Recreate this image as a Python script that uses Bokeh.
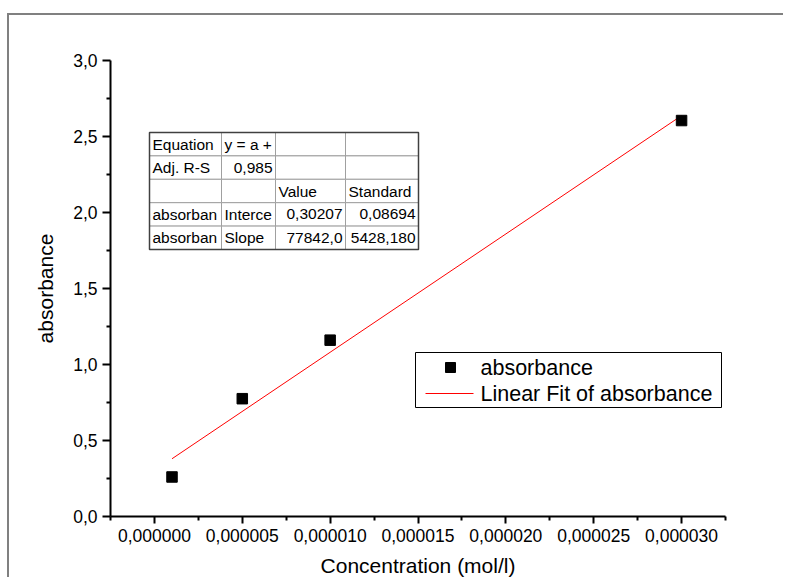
from bokeh.plotting import figure
from bokeh.models import Range1d, FixedTicker, CustomJSTickFormatter, InlineStyleSheet
from bokeh.core.properties import value
from bokeh.embed import file_html
from bokeh.resources import INLINE

# ---- data ----
concentration = [1e-6, 5e-6, 10e-6, 30e-6]
absorbance = [0.26, 0.775, 1.16, 2.605]
fit_intercept = 0.30207
fit_slope = 77842.0

x_major = [0.0, 5e-6, 10e-6, 15e-6, 20e-6, 25e-6, 30e-6]
x_minor = [-2.5e-6, 2.5e-6, 7.5e-6, 12.5e-6, 17.5e-6, 22.5e-6, 27.5e-6, 32.5e-6]
y_major = [0.0, 0.5, 1.0, 1.5, 2.0, 2.5, 3.0]
y_minor = [0.25, 0.75, 1.25, 1.75, 2.25, 2.75]

table_rows = [
    ["Equation", "y = a +", "", ""],
    ["Adj. R-S", "0,985", "", ""],
    ["", "", "Value", "Standard"],
    ["absorban", "Interce", "0,30207", "0,08694"],
    ["absorban", "Slope", "77842,0", "5428,180"],
]
table_align = [
    ["left", "left", "left", "left"],
    ["left", "right", "left", "left"],
    ["left", "left", "left", "left"],
    ["left", "left", "right", "right"],
    ["left", "left", "right", "right"],
]
legend_labels = ["absorbance", "Linear Fit of absorbance"]

FONT = "Liberation Sans"

p = figure(width=787, height=581, output_backend="svg", toolbar_location=None,
           x_range=Range1d(-2.5e-6, 32.5e-6), y_range=Range1d(0, 3.0),
           min_border_left=110, min_border_right=62, min_border_top=60, min_border_bottom=65,
           x_axis_label="Concentration (mol/l)", y_axis_label="absorbance")
p.outline_line_color = None
p.grid.visible = False
p.background_fill_color = "white"
p.border_fill_color = "white"

for ax in (p.xaxis[0], p.yaxis[0]):
    ax.axis_line_width = 2
    ax.axis_line_color = "black"
    ax.major_tick_line_width = 2
    ax.minor_tick_line_width = 2
    ax.major_tick_in = 0
    ax.minor_tick_in = 0
    ax.minor_tick_out = 4
    ax.major_label_standoff = 5
    ax.major_label_text_font = FONT
    ax.major_label_text_font_size = "17.5px"
    ax.major_label_text_color = "black"
    ax.axis_label_text_font = FONT
    ax.axis_label_text_font_size = "21px"
    ax.axis_label_text_font_style = "normal"
    ax.axis_label_text_color = "black"

p.xaxis.major_tick_out = 7
p.yaxis.major_tick_out = 8
p.xaxis.axis_label_standoff = 9
p.yaxis.axis_label_standoff = 13
p.xaxis.ticker = FixedTicker(ticks=x_major, minor_ticks=x_minor)
p.yaxis.ticker = FixedTicker(ticks=y_major, minor_ticks=y_minor)
p.xaxis.formatter = CustomJSTickFormatter(code="return Math.abs(tick) < 1e-12 ? '0,000000' : tick.toFixed(6).replace('.', ',');")
p.yaxis.formatter = CustomJSTickFormatter(code="return tick.toFixed(1).replace('.', ',');")

# ---- data marks ----
fit_x = [concentration[0], concentration[-1]]
fit_y = [fit_intercept + fit_slope * c for c in fit_x]
p.line(fit_x, fit_y, line_color="#ff0000", line_width=1)
p.scatter(concentration, absorbance, marker="square", size=10.5, color="black")

# ---- pixel-space overlay for table and legend ----
p.extra_x_ranges = {"px": Range1d(110, 725)}
p.extra_y_ranges = {"py": Range1d(516, 60)}

col_edges = [149, 221, 275, 345, 418]
row_top = 132
row_h = 23.4
row_edges = [row_top + row_h * i for i in range(len(table_rows) + 1)]

lefts, rights, tops, bottoms = [], [], [], []
tx, ty, tt, ta = [], [], [], []
for r, row in enumerate(table_rows):
    for c, txt in enumerate(row):
        lefts.append(col_edges[c]); rights.append(col_edges[c + 1])
        tops.append(row_edges[r]); bottoms.append(row_edges[r + 1])
        if txt:
            al = table_align[r][c]
            tx.append(col_edges[c] + 3 if al == "left" else col_edges[c + 1] - 3)
            ty.append((row_edges[r] + row_edges[r + 1]) / 2)
            tt.append(txt)
            ta.append(al)
p.quad(left=lefts, right=rights, top=tops, bottom=bottoms, fill_color="white",
       line_color="#a0a0a0", line_width=1, x_range_name="px", y_range_name="py")
p.quad(left=[col_edges[0]], right=[col_edges[-1]], top=[row_edges[0]], bottom=[row_edges[-1]],
       fill_alpha=0, line_color="#404040", line_width=1.5, x_range_name="px", y_range_name="py")
p.text(x=tx, y=ty, text=tt, text_align=ta, text_baseline="middle",
       text_font=value(FONT), text_font_size="15.5px", text_color="black",
       x_range_name="px", y_range_name="py")

# legend box
p.quad(left=[415], right=[721], top=[352], bottom=[407], fill_color="white",
       line_color="black", line_width=1, x_range_name="px", y_range_name="py")
p.scatter([450], [367], marker="square", size=10, color="black", x_range_name="px", y_range_name="py")
p.line([425, 473], [393, 393], line_color="#ff0000", line_width=1, x_range_name="px", y_range_name="py")
p.text(x=[480, 480], y=[367, 393], text=legend_labels, text_align="left", text_baseline="middle",
       text_font=value(FONT), text_font_size="21.5px", text_color="black",
       x_range_name="px", y_range_name="py")

# page border (Origin page frame): top and left rules via a gradient overlay (no box borders)
p.stylesheets = [InlineStyleSheet(css="""
:host::before {
  content: ""; position: absolute; z-index: 10;
  left: 7px; top: 13px; width: 776px; height: 564px;
  background:
    linear-gradient(#808080, #808080) left top / 100% 2px no-repeat,
    linear-gradient(#808080, #808080) left top / 2px 100% no-repeat;
  pointer-events: none;
}
""")]

open("out.html", "w").write(file_html(p, INLINE))
